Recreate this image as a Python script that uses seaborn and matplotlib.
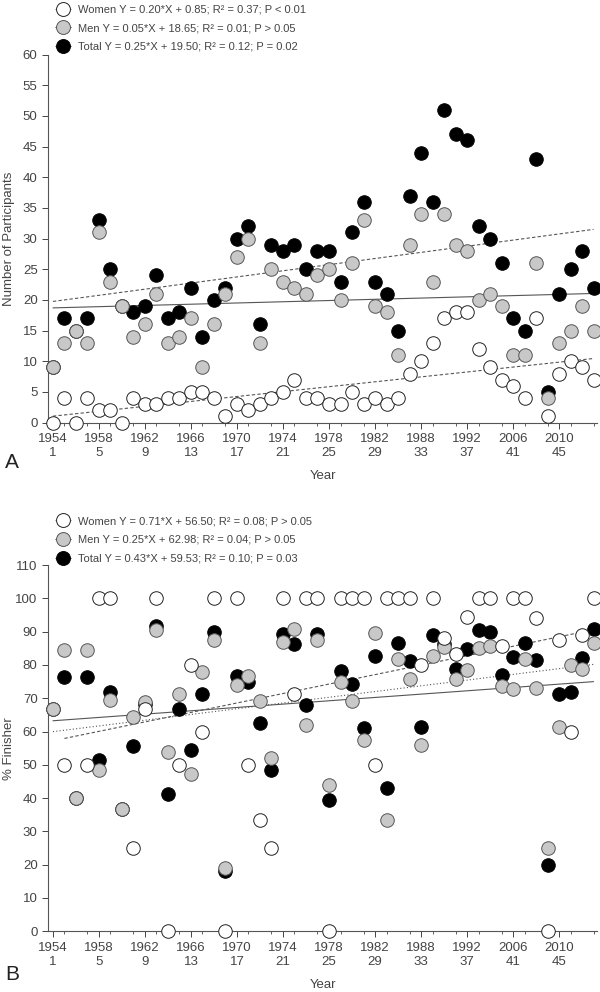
import numpy as np
import pandas as pd
import matplotlib
matplotlib.use("Agg")
import matplotlib.pyplot as plt
from matplotlib.lines import Line2D
from matplotlib.ticker import MultipleLocator
import seaborn as sns

# race index 1..48 and the year labels used on the x axis
race = list(range(1, 49))
tick_pos = [1, 5, 9, 13, 17, 21, 25, 29, 33, 37, 41, 45]
tick_years = ["1954", "1958", "1962", "1966", "1970", "1974",
              "1978", "1982", "1988", "1992", "2006", "2010"]

# panel A: number of participants
women_n = [0, 4, 0, 4, 2, 2, 0, 4, 3, 3, 4, 4, 5, 5, 4, 1, 3, 2, 3, 4, 5, 7, 4, 4,
           3, 3, 5, 3, 4, 3, 4, 8, 10, 13, 17, 18, 18, 12, 9, 7, 6, 4, 17, 1, 8, 10, 9, 7]
men_n = [9, 13, 15, 13, 31, 23, 19, 14, 16, 21, 13, 14, 17, 9, 16, 21, 27, 30, 13, 25, 23, 22, 21, 24,
         25, 20, 26, 33, 19, 18, 11, 29, 34, 23, 34, 29, 28, 20, 21, 19, 11, 11, 26, 4, 13, 15, 19, 15]
total_n = [9, 17, 15, 17, 33, 25, 19, 18, 19, 24, 17, 18, 22, 14, 20, 22, 30, 32, 16, 29, 28, 29, 25, 28,
           28, 23, 31, 36, 23, 21, 15, 37, 44, 36, 51, 47, 46, 32, 30, 26, 17, 15, 43, 5, 21, 25, 28, 22]

# panel B: % finishers (nan = no women started)
nan = float("nan")
women_pct = [nan, 50, nan, 50, 100, 100, nan, 25, 66.7, 100, 0, 50, 80, 60, 100, 0, 100, 50, 33.3, 25,
             100, 71.4, 100, 100, 0, 100, 100, 100, 50, 100, 100, 100, 80, 100, 88.2, 83.3, 94.4, 100,
             100, 85.7, 100, 100, 94.1, 0, 87.5, 60, 88.9, 100]
men_pct = [66.7, 84.6, 40, 84.6, 48.4, 69.6, 36.8, 64.3, 68.8, 90.5, 53.8, 71.4, 47.1, 77.8, 87.5, 19.0,
           74.1, 76.7, 69.2, 52.0, 87.0, 90.9, 61.9, 87.5, 44.0, 75.0, 69.2, 57.6, 89.5, 33.3, 81.8, 75.9,
           55.9, 82.6, 85.3, 75.9, 78.6, 85.0, 85.7, 73.7, 72.7, 81.8, 73.1, 25.0, 61.5, 80.0, 78.9, 86.7]
total_pct = [66.7, 76.5, 40, 76.5, 51.5, 72.0, 36.8, 55.6, 68.4, 91.7, 41.2, 66.7, 54.5, 71.4, 90.0, 18.2,
             76.7, 75.0, 62.5, 48.3, 89.3, 86.2, 68.0, 89.3, 39.3, 78.3, 74.2, 61.1, 82.6, 42.9, 86.7, 81.1,
             61.4, 88.9, 86.3, 78.7, 84.8, 90.6, 90.0, 76.9, 82.4, 86.7, 81.4, 20.0, 71.4, 72.0, 82.1, 90.9]

# regression coefficients printed in the legends
groups = ["Women", "Men", "Total"]
slope_a = [0.20, 0.05, 0.25]
icpt_a = [0.85, 18.65, 19.50]
r2_a = ["0.37", "0.01", "0.12"]
p_a = ["P < 0.01", "P > 0.05", "P = 0.02"]
slope_b = [0.71, 0.25, 0.43]
icpt_b = [56.50, 62.98, 59.53]
r2_b = ["0.08", "0.04", "0.10"]
p_b = ["P > 0.05", "P > 0.05", "P = 0.03"]

sns.set_style("ticks")
plt.rcParams["font.family"] = ["Liberation Sans", "DejaVu Sans"]

txt = "#444444"
faces = {"Women": "white", "Men": "#c8c8c8", "Total": "black"}
edges = {"Women": "#222222", "Men": "#555555", "Total": "black"}

fig = plt.figure(figsize=(6, 9.92), dpi=100)
ax_a = fig.add_axes([0.08, 0.574, 0.915, 0.371])
ax_b = fig.add_axes([0.08, 0.0612, 0.915, 0.3692])


def draw_panel(ax, series, slopes, icpts, styles, ylim, ystep, ylabel):
    # regression lines first, behind the dots
    for g, a, b, ls in zip(groups, slopes, icpts, styles):
        x = pd.Series(race)[pd.notna(series[g])]
        xs = np.array([x.min(), x.max()])
        ax.plot(xs, a * xs + b, color="#555555", lw=0.8, ls=ls, zorder=1)
    for g in ["Total", "Men", "Women"]:
        df = pd.DataFrame({"race": race, "val": series[g]}).dropna()
        sns.scatterplot(data=df, x="race", y="val", ax=ax, s=95,
                        color=faces[g], edgecolor=edges[g], linewidth=0.7,
                        zorder=3, clip_on=False, legend=False)
    ax.set_xlim(0.57, 48.3)
    ax.set_ylim(*ylim)
    ax.set_xticks(tick_pos)
    ax.set_xticklabels([f"{y}\n{i}" for y, i in zip(tick_years, tick_pos)])
    ax.xaxis.set_minor_locator(MultipleLocator(2))
    ax.yaxis.set_major_locator(MultipleLocator(ystep))
    ax.tick_params(axis="both", which="major", labelsize=9.5, colors=txt,
                   length=4, width=0.7, direction="out")
    ax.tick_params(axis="x", which="minor", length=2.5, width=0.6, color=txt)
    ax.set_xlabel("Year", fontsize=9.5, color=txt, labelpad=8)
    ax.set_ylabel(ylabel, fontsize=9.5, color=txt)
    ax.yaxis.set_label_coords(-0.06, 0.5)
    for side in ["top", "right"]:
        ax.spines[side].set_visible(False)
    for side in ["left", "bottom"]:
        ax.spines[side].set_color("#555555")
        ax.spines[side].set_linewidth(0.8)


draw_panel(ax_a, {"Women": women_n, "Men": men_n, "Total": total_n},
           slope_a, icpt_a, [(0, (3, 2)), "-", (0, (3, 2))], (0, 60), 5,
           "Number of Participants")
draw_panel(ax_b, {"Women": women_pct, "Men": men_pct, "Total": total_pct},
           slope_b, icpt_b, [(0, (3, 2)), "-", (0, (1, 2))], (0, 110), 10,
           "% Finisher")


def legend_for(slopes, icpts, r2s, ps, y0):
    handles = []
    labels = []
    for g, a, b, r, p in zip(groups, slopes, icpts, r2s, ps):
        handles.append(Line2D([0], [0], marker="o", ms=10, color="#666666", lw=0.6,
                              ls=":" if g == "Women" else "-",
                              markerfacecolor=faces[g], markeredgecolor=edges[g],
                              markeredgewidth=0.7))
        labels.append(f"{g} Y = {a:.2f}*X + {b:.2f}; R\u00b2 = {r}; {p}")
    fig.legend(handles, labels, loc="upper left", bbox_to_anchor=(0.085, y0),
               frameon=False, fontsize=8, handlelength=1.4, handletextpad=0.6,
               labelspacing=0.78, labelcolor=txt, borderaxespad=0)


legend_for(slope_a, icpt_a, r2_a, p_a, 1.0)
legend_for(slope_b, icpt_b, r2_b, p_b, 0.484)

fig.text(0.008, 0.528, "A", fontsize=15, color="#222222")
fig.text(0.008, 0.012, "B", fontsize=15, color="#222222")

fig.savefig("out.png", dpi=100)
